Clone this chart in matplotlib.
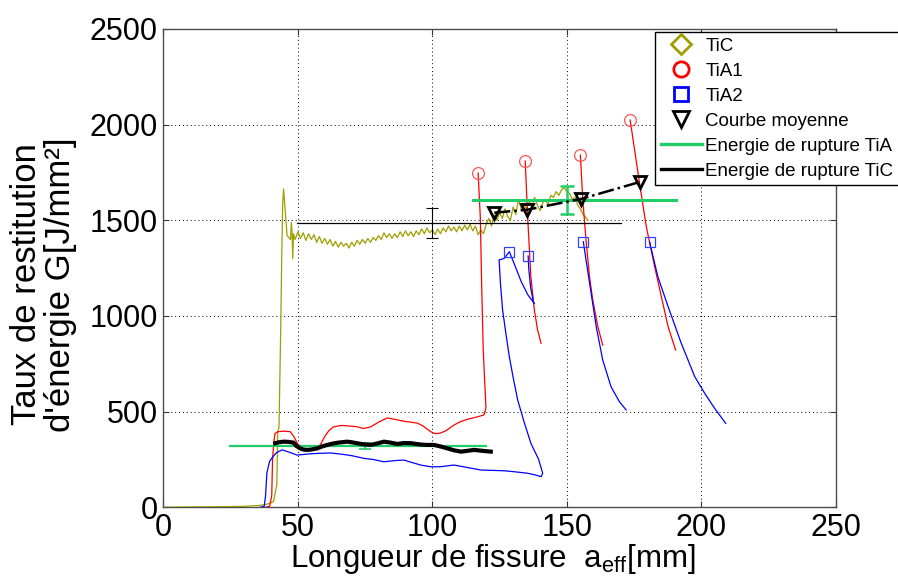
import numpy as np
import matplotlib
matplotlib.use("Agg")
import matplotlib.pyplot as plt
from matplotlib.lines import Line2D

plt.rcParams['font.family'] = ['Liberation Sans', 'DejaVu Sans']
plt.rcParams['mathtext.fontset'] = 'custom'
plt.rcParams['mathtext.rm'] = 'Liberation Sans'

# ---------------- data ----------------
tic_x = [0, 10, 20, 30, 36, 39, 41, 42.2, 42.5, 43.0, 43.6, 44.0, 44.4, 44.7, 45.3, 46.0, 47.3, 47.6,
         47.9, 48.1, 48.4,
         49, 50, 51, 52, 53, 54, 55, 56, 57, 58, 59, 60, 61, 62, 63, 64, 65, 66, 67, 68, 69, 70,
         71, 72, 73, 74, 75, 76, 77, 78, 79, 80, 81, 82, 83, 84, 85, 86, 87, 88, 89, 90, 91, 92,
         93, 94, 95, 96, 97, 98, 99, 100, 101, 102, 103, 104, 105, 106, 107, 108, 109, 110, 111,
         112, 113, 114, 115, 116, 117, 118, 119, 120, 121, 122, 123, 124, 125, 126, 127, 128, 129,
         130, 131, 132, 133, 134, 135, 136, 137, 138, 139, 140, 141, 142, 143, 144, 145, 146, 147,
         148, 149, 150, 151, 152, 153, 154, 155, 156, 157, 157.8]
tic_y = [0, 2, 3, 5, 10, 18, 30, 120, 390, 420, 900, 1300, 1600, 1664, 1550, 1420, 1400, 1490,
         1420, 1300, 1430,
         1400, 1440, 1405, 1435, 1395, 1430, 1400, 1425, 1385, 1415, 1380, 1405, 1375, 1400, 1365,
         1390, 1360, 1385, 1365, 1380, 1355, 1385, 1365, 1395, 1375, 1400, 1380, 1405, 1385, 1410,
         1395, 1420, 1400, 1435, 1410, 1430, 1405, 1430, 1410, 1440, 1415, 1445, 1420, 1440, 1415,
         1445, 1425, 1455, 1430, 1460, 1435, 1450, 1425, 1455, 1430, 1460, 1440, 1470, 1445, 1465,
         1440, 1470, 1445, 1475, 1450, 1480, 1445, 1470, 1425, 1450, 1430, 1480, 1510, 1470, 1530,
         1500, 1540, 1510, 1560, 1520, 1500, 1570, 1530, 1610, 1560, 1590, 1560, 1600, 1570, 1620,
         1580, 1550, 1590, 1610, 1580, 1630, 1620, 1650, 1630, 1660, 1670, 1650, 1640, 1610, 1620,
         1580, 1560, 1530, 1515, 1500]

tia1_x = [
    [38, 39.5, 40.3, 40.6, 41.0, 41.5, 42.5, 45, 47.2, 48.5, 50, 51.5, 53.4, 55, 57.2, 58.5, 60,
     61.5, 63.2, 66, 69, 72, 74.4, 77, 80, 83.2, 86, 89.3, 92, 94.4, 96.5, 99.4, 101, 103, 105,
     108, 110.5, 113, 116, 119.2, 119.9, 118.9, 118.3, 117.8, 117.0],
    [134.5, 135.4, 136.6, 137.9, 139.1, 140.4],
    [155.0, 155.9, 157.1, 158.4, 159.6, 161.5, 163.3],
    [173.5, 177.0, 179.5, 182.6, 185.1, 187.6, 190.4],
]
tia1_y = [
    [0, 5, 60, 250, 330, 385, 395, 398, 395, 370, 330, 310, 300, 298, 305, 330, 370, 400, 420,
     428, 425, 421, 412, 420, 445, 467, 460, 450, 445, 440, 425, 395, 385, 388, 400, 430, 448,
     460, 470, 483, 519, 823, 1171, 1519, 1747],
    [1810, 1519, 1205, 1031, 927, 857],
    [1841, 1606, 1397, 1205, 1084, 944, 848],
    [2024, 1693, 1467, 1258, 1101, 944, 822],
]
tia1_peak_x = [117.0, 134.5, 155.0, 173.5]
tia1_peak_y = [1747, 1810, 1841, 2024]

tia2_x = [
    [36, 37.5, 38, 38.5, 39.5, 40.5, 42, 44.1, 46, 48, 49.7, 52, 55, 58, 62.1, 66, 70, 74.5, 78,
     82, 86, 89.4, 92, 95.6, 99.4, 103, 108, 113, 118, 122, 126.7, 131, 135.4, 138, 140.4, 141,
     139.5, 136.6, 134, 131.7, 130, 128.6, 127.2, 126.1, 125.3, 124.8, 126.7, 128.6, 130.5, 133,
     135.5, 137.9],
    [135.6, 135.8, 136.5, 137.6],
    [156.1, 157.1, 159.0, 160.9, 163.3, 166.4, 169.5, 172.0],
    [180.7, 183.8, 187.6, 192.5, 197.5, 201.2, 204.9, 209.0],
]
tia2_y = [
    [0, 5, 60, 180, 240, 260, 285, 300, 292, 282, 273, 276, 280, 282, 284, 278, 270, 256, 250,
     238, 244, 247, 236, 221, 212, 212, 221, 208, 195, 193, 191, 185, 178, 170, 160, 178, 250,
     335, 450, 561, 680, 787, 920, 1031, 1170, 1293, 1301, 1336, 1270, 1180, 1110, 1066],
    [1313, 1250, 1150, 1068],
    [1388, 1293, 1119, 944, 770, 630, 552, 509],
    [1388, 1205, 1049, 857, 683, 596, 517, 439],
]
tia2_peak_x = [128.6, 135.6, 156.1, 180.7]
tia2_peak_y = [1336, 1313, 1388, 1388]

mean_x = [41.6, 43, 44.7, 46.5, 48.4, 49.5, 50.9, 52, 53.4, 55, 57.2, 59, 60.9, 63, 65, 68.3, 70,
          72, 74, 77, 79, 82, 84.5, 87, 89.5, 92, 95.6, 98, 100.6, 103, 105.6, 108, 110.6, 113,
          115.5, 118, 121.7]
mean_y = [335, 340, 343, 342, 338, 320, 308, 302, 300, 302, 308, 318, 326, 333, 338, 343, 340,
          335, 330, 326, 332, 343, 338, 331, 336, 335, 328, 326, 326, 318, 308, 298, 291, 295,
          300, 296, 291]
mean_tri_x = [123.0, 135.1, 155.3, 177.0]
mean_tri_y = [1540, 1555, 1612, 1700]

tia_energy_low_x = [24.9, 120.1]
tia_energy_low_y = 320
tia_energy_low_err_x = 75
tia_energy_low_err = 15
tia_energy_high_x = [115.1, 190.4]
tia_energy_high_y = 1606
tia_energy_high_err_x = 150
tia_energy_high_err = 72

tic_energy_x = [49.7, 170.2]
tic_energy_y = 1485
tic_energy_err_x = 100
tic_energy_err = 78

xticks = [0, 50, 100, 150, 200, 250]
yticks = [0, 500, 1000, 1500, 2000, 2500]
legend_labels = ['TiC', 'TiA1', 'TiA2', 'Courbe moyenne',
                 'Energie de rupture TiA', 'Energie de rupture TiC']

# ---------------- styling ----------------
OLIVE = (0.62, 0.62, 0.0)
RED = '#ff0000'
BLUE = '#0000ff'
GREEN = '#22cc66'

fig = plt.figure(figsize=(8.98, 5.84), dpi=100)
ax = fig.add_axes([163.3 / 898, 1 - 507.3 / 584, (836 - 163.3) / 898, (507.3 - 29) / 584])

ax.plot(tic_x, tic_y, color=OLIVE, lw=0.9, zorder=3)
for xs, ys in zip(tia1_x, tia1_y):
    ax.plot(xs, ys, color=RED, lw=0.9, zorder=3)
ax.plot(tia1_peak_x, tia1_peak_y, ls='none', marker='o', ms=8.5, mfc='none',
        mec='#ff5555', mew=0.9, zorder=4)
for xs, ys in zip(tia2_x, tia2_y):
    ax.plot(xs, ys, color=BLUE, lw=0.9, zorder=3)
ax.plot(tia2_peak_x, tia2_peak_y, ls='none', marker='s', ms=7, mfc='none',
        mec='#3344ff', mew=0.9, zorder=4)

ax.plot(mean_x, mean_y, color='black', lw=3.0, zorder=5)
ax.plot(mean_tri_x, mean_tri_y, color='black', lw=1.8, ls='-.', marker='v', ms=9,
        mfc='none', mec='black', mew=2, zorder=6)

ax.plot(tia_energy_low_x, [tia_energy_low_y] * 2, color=GREEN, lw=1.6, zorder=4)
ax.errorbar([tia_energy_low_err_x], [tia_energy_low_y], yerr=[tia_energy_low_err],
            color=GREEN, lw=1.2, capsize=4, capthick=1.2, zorder=4)
ax.plot(tia_energy_high_x, [tia_energy_high_y] * 2, color=GREEN, lw=2.2, zorder=4)
ax.errorbar([tia_energy_high_err_x], [tia_energy_high_y], yerr=[tia_energy_high_err],
            color=GREEN, lw=1.8, capsize=5, capthick=1.8, zorder=4)
ax.plot(tic_energy_x, [tic_energy_y] * 2, color='black', lw=0.9, zorder=4)
ax.errorbar([tic_energy_err_x], [tic_energy_y], yerr=[tic_energy_err],
            color='black', lw=0.8, capsize=4, capthick=0.8, zorder=4)

ax.set_xlim(0, 250)
ax.set_ylim(0, 2500)
ax.set_xticks(xticks)
ax.set_yticks(yticks)
ax.tick_params(direction='in', length=4, width=0.8, labelsize=22, top=True, right=True,
               pad=4, color='0.2')
ax.grid(True, color='black', lw=0.7, ls=(0, (1, 3)))
for s in ax.spines.values():
    s.set_color('0.3')
    s.set_linewidth(1.0)

ax.set_xlabel('Longueur de fissure  a$_{\\mathregular{eff}}$[mm]', fontsize=22.5)
ax.xaxis.set_label_coords(0.49, -0.072)
ax.set_ylabel("Taux de restitution\nd'énergie G[J/mm²]", fontsize=25, linespacing=1.05)
ax.yaxis.set_label_coords(-0.128, 0.466)

handles = [
    Line2D([], [], ls='none', marker='D', ms=10, mfc='none', mec=OLIVE, mew=2),
    Line2D([], [], ls='none', marker='o', ms=11, mfc='none', mec=RED, mew=2),
    Line2D([], [], ls='none', marker='s', ms=10, mfc='none', mec=BLUE, mew=2),
    Line2D([], [], ls='none', marker='v', ms=11, mfc='none', mec='black', mew=2),
    Line2D([], [], color=GREEN, lw=2.4),
    Line2D([], [], color='black', lw=2.4),
]
leg = fig.legend(handles, legend_labels, loc='upper left',
                 bbox_to_anchor=(655 / 898, 1 - 32 / 584), bbox_transform=fig.transFigure,
                 fontsize=13.5, frameon=True, fancybox=False, shadow=False, borderpad=0.3,
                 handlelength=2.2, handletextpad=0.18, labelspacing=0.42, borderaxespad=0)
leg.get_frame().set_edgecolor('black')
leg.get_frame().set_linewidth(1.0)
leg.get_frame().set_alpha(1)

fig.savefig('out.png', dpi=100)
